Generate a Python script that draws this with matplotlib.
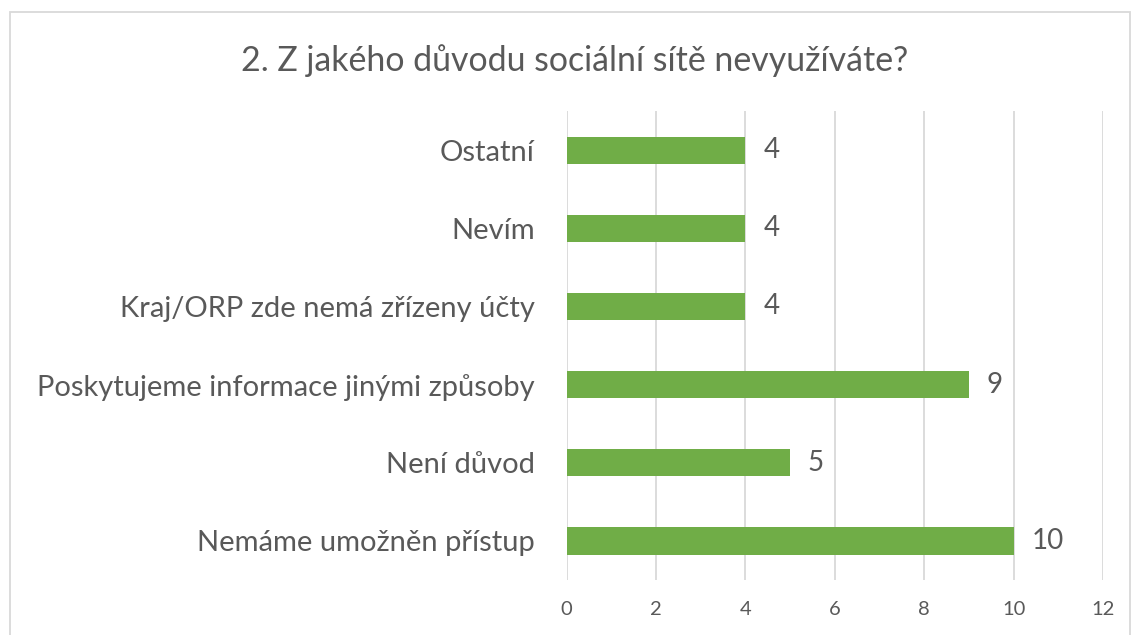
import matplotlib
matplotlib.use("Agg")
from matplotlib import pyplot as plt
from matplotlib.patches import Rectangle

# datos
kategorie = ["Nemáme umožněn přístup", "Není důvod",
             "Poskytujeme informace jinými způsoby",
             "Kraj/ORP zde nemá zřízeny účty", "Nevím", "Ostatní"]
hodnoty = [10, 5, 9, 4, 4, 4]
ticks_x = [0, 2, 4, 6, 8, 10, 12]

plt.rcParams['font.family'] = ['Lato', 'DejaVu Sans']
sediva = "#595959"

fig = plt.figure(figsize=(11.4, 6.35), dpi=100)
ax = fig.add_axes([0.497, 0.0866, 0.4705, 0.7384])

ax.barh(range(len(kategorie)), hodnoty, height=0.35, color="#70AD47", zorder=3)
for i, v in enumerate(hodnoty):
    ax.text(v + 0.4, i, str(v), va="center", ha="left", fontsize=20, color=sediva)

ax.set_xlim(0, 12)
ax.set_ylim(-0.5, len(kategorie) - 0.5)
ax.set_xticks(ticks_x)
ax.set_yticks(range(len(kategorie)))
ax.set_yticklabels(kategorie, fontsize=21, color=sediva)
ax.tick_params(axis="y", length=0, pad=23)
ax.tick_params(axis="x", length=0, pad=15, labelsize=14.5, labelcolor=sediva)
ax.grid(axis="x", color="#D9D9D9", linewidth=1.3, zorder=0)
for s in ax.spines.values():
    s.set_visible(False)

fig.text(0.504, 0.905, "2. Z jakého důvodu sociální sítě nevyužíváte?",
         ha="center", va="center", fontsize=24.4, color=sediva)

# ramecek grafu
fig.patches.append(Rectangle((10 / 1140, -0.05), 1120 / 1140, 1 - 12 / 635 + 0.05,
                             transform=fig.transFigure, fill=False,
                             edgecolor="#D9D9D9", linewidth=1.3))

fig.savefig("out.png", dpi=100)
